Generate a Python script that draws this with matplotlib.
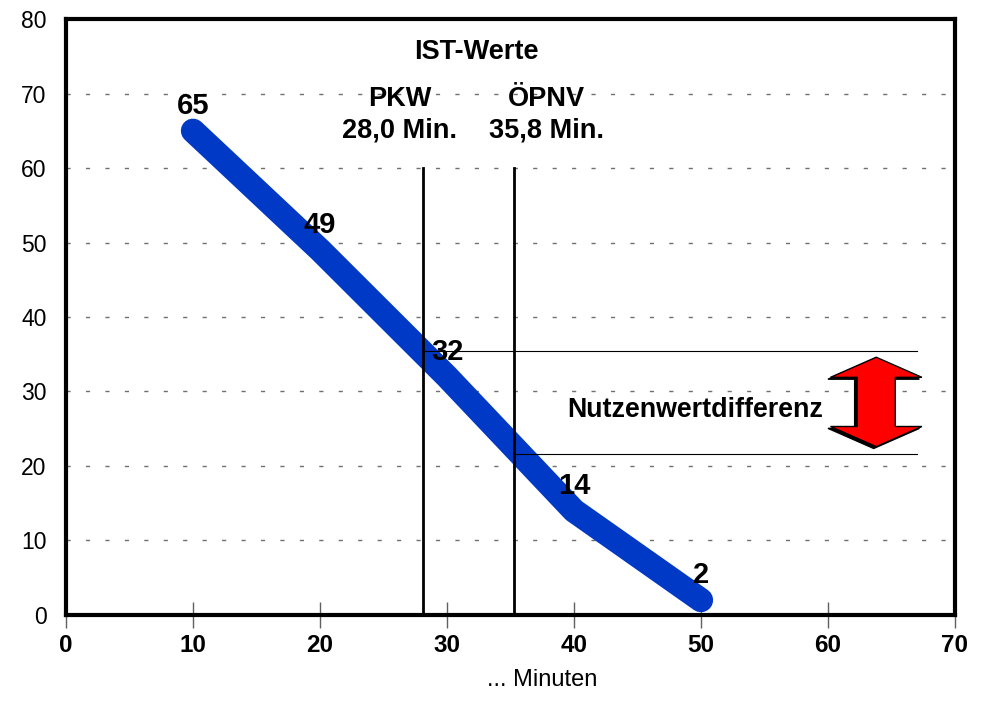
import matplotlib.pyplot as plt
from matplotlib.patches import Polygon
import numpy as np

plt.rcParams['font.family'] = ['Liberation Sans', 'DejaVu Sans']

minutes = [10, 20, 30, 40, 50]
values = [65, 49, 32, 14, 2]
pkw_time = 28.0
oepnv_time = 35.8
x_ticks = [0, 10, 20, 30, 40, 50, 60, 70]
y_ticks = [0, 10, 20, 30, 40, 50, 60, 70, 80]

BLUE = "#0039C6"

fig = plt.figure(figsize=(9.85, 7.18), dpi=100)
ax = fig.add_axes([0.067, 0.1435, 0.9025, 0.83])
ax.set_xlim(0, 70)
ax.set_ylim(0, 80)

# gridlines
for yv in y_ticks[1:-1]:
    ax.axhline(yv, color="#707070", lw=1.0, dashes=(3, 11), zorder=1)

# main curve
ax.plot(minutes, values, color=BLUE, lw=17.5, solid_capstyle="round",
        solid_joinstyle="round", zorder=3)

for x, v in zip(minutes, values):
    ax.annotate(str(v), (x, v), xytext=(0, 18), textcoords="offset points",
                ha="center", va="center", fontsize=21, fontweight="bold", zorder=5)

# travel time markers (drawn where the original puts them)
pkw_val = np.interp(pkw_time, minutes, values)
oepnv_val = np.interp(oepnv_time, minutes, values)
pkw_x, oepnv_x = 28.1, 35.3
ax.plot([pkw_x, pkw_x], [0, 60], color="black", lw=2, zorder=4)
ax.plot([oepnv_x, oepnv_x], [0, 60], color="black", lw=2, zorder=4)
ax.plot([pkw_x, 67], [pkw_val, pkw_val], color="black", lw=0.8, zorder=4)
ax.plot([oepnv_x, 67], [oepnv_val, oepnv_val], color="black", lw=0.8, zorder=4)

ax.text(26.3, 69.3, "PKW", ha="center", va="center", fontsize=19.5, fontweight="bold")
ax.text(26.3, 65.0, "28,0 Min.", ha="center", va="center", fontsize=19.5, fontweight="bold")
ax.text(37.8, 69.3, "ÖPNV", ha="center", va="center", fontsize=19.5, fontweight="bold")
ax.text(37.8, 65.0, "35,8 Min.", ha="center", va="center", fontsize=19.5, fontweight="bold")
ax.text(32.3, 75.6, "IST-Werte", ha="center", va="center", fontsize=19.5, fontweight="bold")
ax.text(39.45, 27.5, "Nutzenwertdifferenz", ha="left", va="center", fontsize=19.3,
        fontweight="bold")

# double arrow
cx, top, bot = 63.8, 34.6, 22.6
hw, sw, hh = 3.6, 1.5, 2.7
pts = [(cx, top), (cx + hw, top - hh), (cx + sw, top - hh), (cx + sw, bot + hh),
       (cx + hw, bot + hh), (cx, bot), (cx - hw, bot + hh), (cx - sw, bot + hh),
       (cx - sw, top - hh), (cx - hw, top - hh)]
shadow = [(px - 0.2, py - 0.25) for px, py in pts]
ax.add_patch(Polygon(shadow, closed=True, facecolor="black", edgecolor="black", zorder=5))
ax.add_patch(Polygon(pts, closed=True, facecolor="#FF0000", edgecolor="black", lw=1, zorder=6))

for s in ax.spines.values():
    s.set_linewidth(3)
    s.set_zorder(7)

ax.set_xticks(x_ticks)
ax.set_yticks(y_ticks)
ax.tick_params(axis="x", direction="inout", length=19, width=1, color="#606060",
               labelsize=17.5, pad=4)
ax.tick_params(axis="y", length=0, labelsize=16.5, pad=14)
for lab in ax.get_xticklabels():
    lab.set_fontweight("bold")
ax.set_xlabel("... Minuten", fontsize=17)
ax.xaxis.set_label_coords(37.5 / 70, -0.091)

fig.savefig("out.png", dpi=100)
